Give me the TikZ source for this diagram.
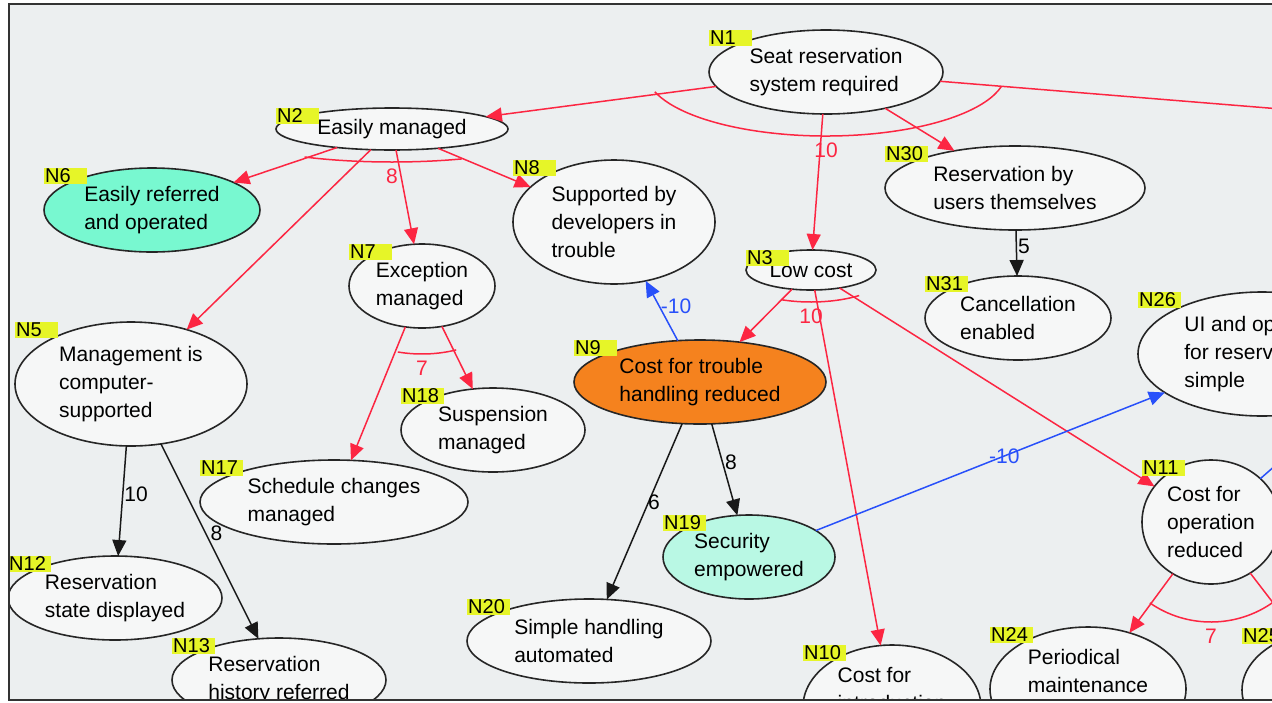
\documentclass[tikz,border=0pt]{standalone}
\usepackage{fontspec}
\setmainfont{Liberation Sans}
\newcommand*{\goalfont}{\fontsize{21}{28}\selectfont}
\newcommand*{\tagfont}{\fontsize{20}{20}\selectfont}
\definecolor{bgcolor}{RGB}{236,239,240}
\definecolor{goalfill}{RGB}{246,247,247}
\definecolor{aqua}{RGB}{120,248,208}
\definecolor{mint}{RGB}{185,248,228}
\definecolor{hot}{RGB}{245,130,30}
\definecolor{tagyellow}{RGB}{230,245,40}
\definecolor{andred}{RGB}{252,38,66}
\definecolor{negblue}{RGB}{40,80,250}
\usepackage{tikz}
\usetikzlibrary{arrows.meta}
\usetikzlibrary{shapes.geometric}
\tikzstyle{base}=[x=1pt, y=-1pt]
\tikzstyle{goal}=[ellipse, draw=black!85, line width=1.6pt, fill=goalfill, inner sep=0pt, outer sep=0pt, align=left]
\tikzstyle{ntag}=[fill=tagyellow, font=\tagfont, anchor=north west, inner xsep=1pt, inner ysep=0.5pt, text width=41pt, text height=14pt, text depth=1pt, align=left]
\tikzstyle{andlink}=[draw=andred, line width=1.5pt, -{Triangle[length=16pt,width=14pt]}]
\tikzstyle{andarc}=[draw=andred, line width=1.5pt]
\tikzstyle{plain}=[draw=black!90, line width=1.5pt, -{Triangle[length=16pt,width=14pt]}]
\tikzstyle{neglink}=[draw=negblue, line width=1.5pt, -{Triangle[length=16pt,width=14pt]}]
\tikzstyle{wlabel}=[font=\goalfont, inner sep=1pt]
\tikzstyle{andwt}=[wlabel, text=andred, anchor=north]

\begin{document}
\begin{tikzpicture}[base]
    \goalfont
        \useasboundingbox (0,0) rectangle (1272,702);
        \fill [white] (0,0) rectangle (1272,702);
        \fill [bgcolor] (9,4) rectangle (1272,700);
        \begin{scope}
        \clip (9,4) rectangle (1272,700);
        \node [goal, minimum width=234pt, minimum height=84pt] (n1) at (826,72) {Seat reservation\\system required};
        \node [goal, minimum width=232pt, minimum height=42pt] (n2) at (392,129) {Easily managed};
        \node [goal, minimum width=130pt, minimum height=40pt] (n3) at (811,270) {Low cost};
        \node [goal, minimum width=232pt, minimum height=124pt] (n5) at (131,384) {Management is\\computer-\\supported};
        \node [goal, fill=aqua, minimum width=216pt, minimum height=84pt] (n6) at (152,210) {Easily referred\\and operated};
        \node [goal, minimum width=146pt, minimum height=84pt] (n7) at (422,286) {Exception\\managed};
        \node [goal, minimum width=202pt, minimum height=124pt] (n8) at (614,222) {Supported by\\developers in\\trouble};
        \node [goal, fill=hot, minimum width=252pt, minimum height=84pt] (n9) at (700,382) {Cost for trouble\\handling reduced};
        \node [goal, minimum width=178pt, minimum height=124pt] (n10) at (892,707) {Cost for\\introduction\\\strut};
        \node [goal, minimum width=138pt, minimum height=124pt] (n11) at (1211,522) {Cost for\\operation\\reduced};
        \node [goal, minimum width=214pt, minimum height=84pt] (n12) at (115,598) {Reservation\\state displayed};
        \node [goal, minimum width=214pt, minimum height=84pt] (n13) at (279,680) {Reservation\\history referred};
        \node [goal, minimum width=268pt, minimum height=84pt] (n17) at (334,502) {Schedule changes\\managed};
        \node [goal, minimum width=184pt, minimum height=84pt] (n18) at (493,430) {Suspension\\managed};
        \node [goal, fill=mint, minimum width=172pt, minimum height=84pt] (n19) at (749,557) {Security\\empowered};
        \node [goal, minimum width=244pt, minimum height=84pt] (n20) at (589,641) {Simple handling\\automated};
        \node [goal, minimum width=196pt, minimum height=124pt] (n24) at (1088,689) {Periodical\\maintenance\\\strut};
        \node [goal, minimum width=196pt, minimum height=124pt] (n25) at (1340,690) {};
        \node [goal, minimum width=248pt, minimum height=124pt] (n26) at (1262,354) {UI and operation\\for reservation\\simple};
        \node [goal, minimum width=260pt, minimum height=84pt] (n30) at (1015,188) {Reservation by\\users themselves};
        \node [goal, minimum width=186pt, minimum height=84pt] (n31) at (1018,318) {Cancellation\\enabled};
        \coordinate (offn1) at (1600,135);
        \coordinate (offn11) at (1400,356);

        \draw [andlink] (n1) -- (n2);
        \draw [andlink] (n1) -- (n3);
        \draw [andlink] (n1) -- (n30);
        \draw [andlink] (n1) -- (offn1);
        \draw [andarc] ([shift={(198:180pt and 64pt)}]n1.center) arc [start angle=198, end angle=347, x radius=180pt, y radius=64pt];
        \node [andwt] (a1) at ([yshift=-70pt]n1.center) {10};

        \draw [andlink] (n2) -- (n6);
        \draw [andlink] (n2) -- (n5);
        \draw [andlink] (n2) -- (n7);
        \draw [andlink] (n2) -- (n8);
        \draw [andarc] ([shift={(238:165pt and 33pt)}]n2.center) arc [start angle=238, end angle=295, x radius=165pt, y radius=33pt];
        \node [andwt] (a2) at ([yshift=-39pt]n2.center) {8};

        \draw [andlink] (n7) -- (n17);
        \draw [andlink] (n7) -- (n18);
        \draw [andarc] ([shift={(256:100pt and 68pt)}]n7.center) arc [start angle=256, end angle=290, x radius=100pt, y radius=68pt];
        \node [andwt] (a7) at ([yshift=-74pt]n7.center) {7};

        \draw [andlink] (n3) -- (n9);
        \draw [andlink] (n3) -- (n10);
        \draw [andlink] (n3) -- (n11);
        \draw [andarc] ([shift={(248:80pt and 32pt)}]n3.center) arc [start angle=248, end angle=307, x radius=80pt, y radius=32pt];
        \node [andwt] (a3) at ([yshift=-38pt]n3.center) {10};

        \draw [andlink] (n11) -- (n24);
        \draw [andlink] (n11) -- (n25);
        \draw [andarc] ([shift={(234:104pt and 100pt)}]n11.center) arc [start angle=234, end angle=307, x radius=104pt, y radius=100pt];
        \node [andwt] (a11) at ([yshift=-106pt]n11.center) {7};

        \draw [plain] (n30) -- node [wlabel, pos=0.35, anchor=west] (w30) {5} (n31);
        \draw [plain] (n5) -- node [wlabel, pos=0.44, anchor=west] (w5a) {10} (n12);
        \draw [plain] (n5) -- node [wlabel, pos=0.46, anchor=west, xshift=3pt] (w5b) {8} (n13);
        \draw [plain] (n9) -- node [wlabel, pos=0.42, anchor=west, xshift=1pt] (w9a) {8} (n19);
        \draw [plain] (n9) -- node [wlabel, pos=0.45, anchor=west, xshift=-2pt] (w9b) {6} (n20);
        \draw [neglink] (n9) -- node [wlabel, text=negblue, pos=0.58, anchor=west] (w9c) {-10} (n8);
        \draw [neglink] (n19) -- node [wlabel, text=negblue, pos=0.54] (w19) {-10} (n26);
        \draw [neglink] (n11) -- (offn11);

        \node [ntag] (t1) at (n1.west |- n1.north) {N1};
        \node [ntag] (t2) at (n2.west |- n2.north) {N2};
        \node [ntag] (t3) at (n3.west |- n3.north) {N3};
        \node [ntag] (t5) at (n5.west |- n5.north) {N5};
        \node [ntag] (t6) at (n6.west |- n6.north) {N6};
        \node [ntag] (t7) at (n7.west |- n7.north) {N7};
        \node [ntag] (t8) at (n8.west |- n8.north) {N8};
        \node [ntag] (t9) at (n9.west |- n9.north) {N9};
        \node [ntag] (t10) at (n10.west |- n10.north) {N10};
        \node [ntag] (t11) at (n11.west |- n11.north) {N11};
        \node [ntag] (t12) at (n12.west |- n12.north) {N12};
        \node [ntag] (t13) at (n13.west |- n13.north) {N13};
        \node [ntag] (t17) at (n17.west |- n17.north) {N17};
        \node [ntag] (t18) at (n18.west |- n18.north) {N18};
        \node [ntag] (t19) at (n19.west |- n19.north) {N19};
        \node [ntag] (t20) at (n20.west |- n20.north) {N20};
        \node [ntag] (t24) at (n24.west |- n24.north) {N24};
        \node [ntag] (t25) at (n25.west |- n25.north) {N25};
        \node [ntag] (t26) at (n26.west |- n26.north) {N26};
        \node [ntag] (t30) at (n30.west |- n30.north) {N30};
        \node [ntag] (t31) at (n31.west |- n31.north) {N31};
        \end{scope}
        \draw [black!80, line width=2.5pt] (1272,4) -- (9,4) -- (9,700) -- (1272,700);
    \end{tikzpicture}
\end{document}
